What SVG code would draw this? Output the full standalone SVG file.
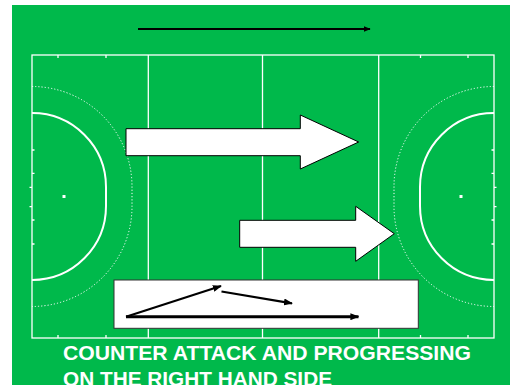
<svg xmlns="http://www.w3.org/2000/svg" width="510" height="385" viewBox="0 0 510 385">
<defs>
<style>
.ln{stroke:#fff;stroke-width:1.3;fill:none}
.d{stroke:#fff;stroke-width:2;fill:none}
.dot{stroke:#fff;stroke-width:1;fill:none;stroke-dasharray:1.2 2}
.big{fill:#fff;stroke:#000;stroke-width:1}
.cn{stroke:#000;fill:none}
.t{font-family:"Liberation Sans",Arial,sans-serif;font-weight:bold;font-size:21px;fill:#fff}
</style>
<marker id="ah" viewBox="0 0 10 10" refX="9" refY="5" markerWidth="9" markerHeight="7" markerUnits="userSpaceOnUse" orient="auto" preserveAspectRatio="none">
<path d="M0,0L10,5L0,10z" fill="#000"/>
</marker>
<marker id="ahs" viewBox="0 0 10 10" refX="9" refY="5" markerWidth="7" markerHeight="6" markerUnits="userSpaceOnUse" orient="auto" preserveAspectRatio="none">
<path d="M0,0L10,5L0,10z" fill="#000"/>
</marker>
</defs>
<rect x="0" y="0" width="510" height="385" fill="#fff"/>
<rect x="12" y="5" width="498" height="380" fill="#00B94B"/>
<g id="pitch">
<rect class="ln" x="32" y="55" width="462" height="283"/>
<line class="ln" x1="148.3" y1="55" x2="148.3" y2="338"/>
<line class="ln" x1="262.5" y1="55" x2="262.5" y2="338"/>
<line class="ln" x1="378.7" y1="55" x2="378.7" y2="338"/>
<path class="ln" d="M58,55v3M106,55v3M420.5,55v3M468,55v3M58,338v-3M106,338v-3M420.5,338v-3M468,338v-3"/>
<path class="ln" d="M32,150h2.5M32,173.3h2.5M32,220h2.5M32,244h2.5M32,187.3h-2.5M32,206.7h-2.5"/>
<path class="ln" d="M494,150h-2.5M494,173.3h-2.5M494,220h-2.5M494,244h-2.5M494,187.3h2.5M494,206.7h2.5"/>
<path class="d" d="M32,113A74,74 0 0 1 106,187L106,206A74,74 0 0 1 32,280"/>
<path class="dot" d="M32,86.5A100,100 0 0 1 132,186.5L132,206.5A100,100 0 0 1 32,306.5"/>
<path class="d" d="M494,113A74,74 0 0 0 420,187L420,206A74,74 0 0 0 494,280"/>
<path class="dot" d="M494,86.5A100,100 0 0 0 394,186.5L394,206.5A100,100 0 0 0 494,306.5"/>
<rect x="62.5" y="195" width="3" height="3" fill="#fff"/>
<rect x="459.5" y="195" width="3" height="3" fill="#fff"/>
</g>
<g id="arrow1">
<path class="big" d="M126,128.7H300.3V115L358.7,142L300.3,169V155.7H126Z"/>
</g>
<g id="arrow2">
<path class="big" d="M239.7,220.3H355.7V206.3L394.3,233.7L355.7,261.3V247.3H239.7Z"/>
</g>
<g id="box">
<rect x="114" y="280" width="304.3" height="48.3" fill="#fff" stroke="#333" stroke-width="1"/>
</g>
<g id="connectors">
<line class="cn" x1="138" y1="29" x2="370" y2="29" stroke-width="2" marker-end="url(#ahs)"/>
<line class="cn" x1="126" y1="316.7" x2="221" y2="286" stroke-width="2.2" marker-end="url(#ah)"/>
<line class="cn" x1="221.5" y1="291.5" x2="292" y2="303.3" stroke-width="2.2" marker-end="url(#ah)"/>
<line class="cn" x1="126" y1="316.7" x2="358.5" y2="316.7" stroke-width="3" marker-end="url(#ah)"/>
</g>
<g id="title">
<text class="t" x="63" y="359.7" textLength="408" lengthAdjust="spacingAndGlyphs">COUNTER ATTACK AND PROGRESSING</text>
<text class="t" x="63" y="385.7" textLength="269" lengthAdjust="spacingAndGlyphs">ON THE RIGHT HAND SIDE</text>
</g>
</svg>
